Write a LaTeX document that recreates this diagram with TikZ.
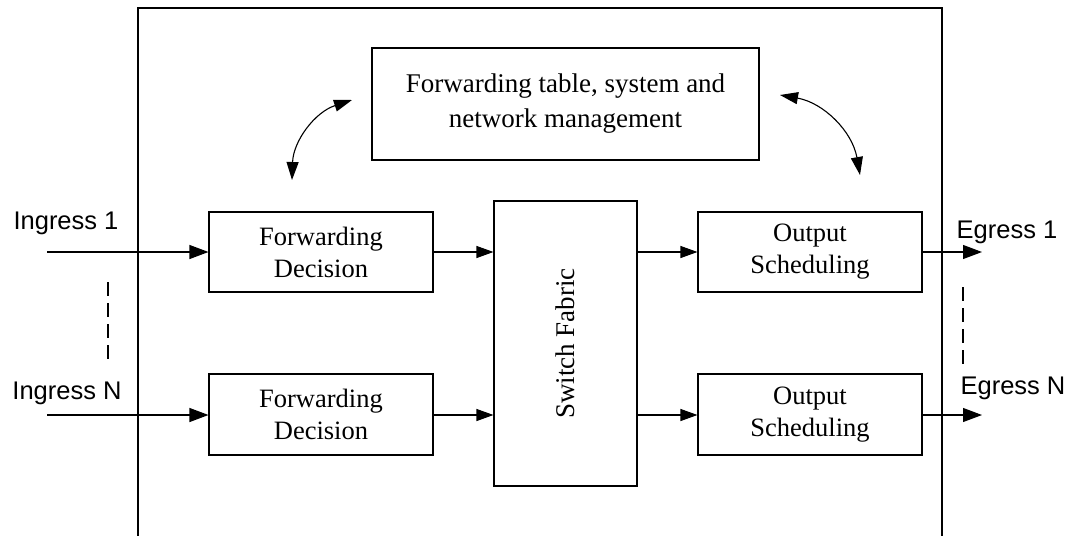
\documentclass[tikz,border=0pt]{standalone}
\usepackage{fontspec}
\setmainfont{Liberation Serif}
\newfontfamily\arialf{Liberation Sans}
\usetikzlibrary{arrows.meta}
\begin{document}
\begin{tikzpicture}[x=1pt,y=-1pt,
  blk/.style={draw=black,line width=1.1pt,align=center,inner sep=0pt,
     font=\fontsize{26.5}{32}\selectfont},
  lbl/.style={font=\arialf\fontsize{25.5}{30}\selectfont,inner sep=0pt},
  arr/.style={line width=1.1pt,-{Triangle[length=19pt,width=14pt]}},
  sarr/.style={line width=1.1pt,-{Triangle[length=17pt,width=12pt]}},
  carr/.style={line width=1.1pt,{Triangle[length=18pt,width=12pt]}-{Triangle[length=18pt,width=12pt]}},
  dsh/.style={line width=1.1pt,dash pattern=on 14pt off 7pt}]
\useasboundingbox (0,0) rectangle (1072,536);
\draw[line width=1.1pt] (138,545) -- (138,8) -- (942,8) -- (942,545);
\node[blk,minimum width=387pt,minimum height=112pt,font=\fontsize{27}{35}\selectfont] (mgmt) at (565.5,104) {Forwarding table, system and\\network management};
\node[blk,minimum width=224pt,minimum height=80pt] (fd1) at (321,252) {Forwarding\\Decision};
\node[blk,minimum width=224pt,minimum height=81pt] (fdn) at (321,414.5) {Forwarding\\Decision};
\node[blk,minimum width=143pt,minimum height=285pt] (sw) at (565.5,343.5) {};
\node[rotate=90,font=\fontsize{27}{30}\selectfont,inner sep=0pt] (swl) at (sw.center) {Switch Fabric};
\node[blk,minimum width=224pt,minimum height=80pt] (os1) at (810,252) {Output\\Scheduling};
\node[blk,minimum width=224pt,minimum height=81pt] (osn) at (810,414.5) {Output\\Scheduling};
\node[lbl] (in1) at (66,223) {Ingress 1};
\node[lbl] (inn) at (67,393) {Ingress N};
\node[lbl] (eg1) at (1007,232) {Egress 1};
\node[lbl] (egn) at (1013,388) {Egress N};
\coordinate (i1) at (47,252);
\coordinate (iN) at (47,415);
\coordinate (e1) at (982,252);
\coordinate (eN) at (982,415);
\draw[arr] (i1) -- (fd1.west |- i1);
\draw[arr] (iN) -- (fdn.west |- iN);
\draw[sarr] (fd1.east |- i1) -- (sw.west |- i1);
\draw[sarr] (fdn.east |- iN) -- (sw.west |- iN);
\draw[sarr] (sw.east |- i1) -- (os1.west |- i1);
\draw[sarr] (sw.east |- iN) -- (osn.west |- iN);
\draw[arr] (os1.east |- e1) -- (e1);
\draw[arr] (osn.east |- eN) -- (eN);
\coordinate (ld1) at (108,282);
\coordinate (ld2) at (108,364);
\coordinate (rd1) at (963,287);
\coordinate (rd2) at (963,367);
\draw[dsh] (ld1) -- (ld2);
\draw[dsh] (rd1) -- (rd2);
\coordinate (la) at (352,100);
\coordinate (lb) at (292,180);
\coordinate (ra) at (780,95);
\coordinate (rb) at (860,175);
\draw[carr] (la) to[bend right=35] (lb);
\draw[carr] (ra) to[bend left=35] (rb);
\end{tikzpicture}
\end{document}
